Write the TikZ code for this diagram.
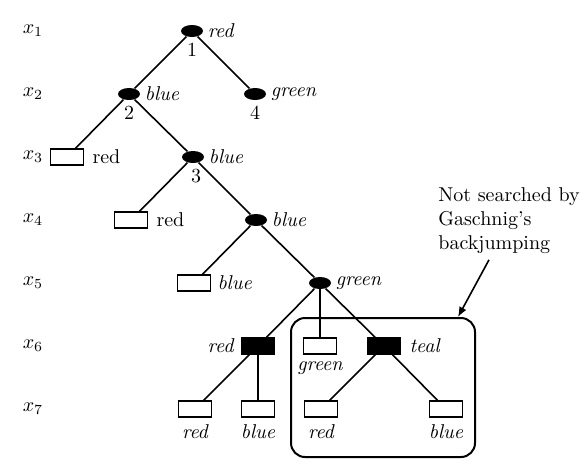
\documentclass[tikz,border=0pt]{standalone}
\usepackage{amsmath}
\usetikzlibrary{shapes.geometric,positioning,arrows.meta}

\begin{document}
\begin{tikzpicture}[x=0.5pt, y=-0.5pt,
  dot/.style={ellipse, fill=black, inner sep=0pt, minimum width=11pt, minimum height=6pt},
  leaf/.style={draw, line width=0.6pt, inner sep=0pt, minimum width=16.5pt, minimum height=8pt},
  dead/.style={leaf, fill=black},
  val/.style={font=\itshape, inner sep=1pt},
  num/.style={inner sep=1pt},
  edge/.style={line width=0.8pt}]
\newcommand{\Lvltop}{31}; % y of first level
\newcommand{\Lvlgap}{63}; % distance between levels

\useasboundingbox (0,0) rectangle (587,471);

% variables
\foreach \i in {1,...,7}
  \node (x\i) at (33, \Lvltop + \Lvlgap*\i - \Lvlgap) {$x_{\i}$};
%

% search tree
\node[dot]  (n1)  at (192,31)  {};
\node[dot]  (n2)  at (129,94)  {};
\node[dot]  (n4)  at (255,94)  {};
\node[leaf] (l3)  at (67,157)  {};
\node[dot]  (n3)  at (193,157) {};
\node[leaf] (l4)  at (131,220) {};
\node[dot]  (n5)  at (256,220) {};
\node[leaf] (l5)  at (194,283) {};
\node[dot]  (n6)  at (320,283) {};
\node[dead] (d6a) at (258,346) {};
\node[leaf] (l6)  at (320,346) {};
\node[dead] (d6b) at (384,346) {};
\node[leaf] (l7a) at (195,409) {};
\node[leaf] (l7b) at (258,409) {};
\node[leaf] (l7c) at (321,409) {};
\node[leaf] (l7d) at (446,409) {};

\foreach \a/\b in {n1/n2, n1/n4, n2/l3, n2/n3, n3/l4, n3/n5, n5/l5, n5/n6,
                   n6/d6a, n6/l6, n6/d6b, d6a/l7a, d6a/l7b, d6b/l7c, d6b/l7d}
  \draw[edge] (\a) -- (\b);
%

% values
\node[val, right=1pt of n1]  (c1)  {red};
\node[val, right=1pt of n2]  (c2)  {blue};
\node[val, right=1pt of n4]  (c4)  {green};
\node[inner sep=1pt, right=3pt of l3] (c3r) {red};
\node[val, right=1pt of n3]  (c3)  {blue};
\node[inner sep=1pt, right=3pt of l4] (c4r) {red};
\node[val, right=1pt of n5]  (c5)  {blue};
\node[val, right=2pt of l5]  (c5b) {blue};
\node[val, right=1pt of n6]  (c6)  {green};
\node[val, left=2.5pt of d6a] (c6a) {red};
\node[val, below=2.5pt of l6] (c6g) {green};
\node[val, right=3pt of d6b] (c6b) {teal};
\node[val, below=2.5pt of l7a] (c7a) {red};
\node[val, below=2.5pt of l7b] (c7b) {blue};
\node[val, below=2.5pt of l7c] (c7c) {red};
\node[val, below=2.5pt of l7d] (c7d) {blue};

% order of visit
\node[num, below=1.5pt of n1] (k1) {1};
\node[num, below=1.5pt of n2] (k2) {2};
\node[num, below=1.5pt of n3, xshift=1.5pt] (k3) {3};
\node[num, below=1.5pt of n4] (k4) {4};
%

% part that is skipped
\node[draw, rounded corners=7pt, line width=1pt, minimum width=92pt, minimum height=69.5pt] (skip) at (383,387.5) {};

\node[anchor=north west, align=left, inner sep=0pt] (note) at (438,187) {Not searched by\\Gaschnig's\\backjumping};
\coordinate (tail) at ([xshift=25.5pt, yshift=-3pt]note.south west);
\coordinate (hit)  at ([xshift=-9pt]skip.north east);
\draw[-{Latex[length=5pt, width=4pt]}, line width=0.8pt] (tail) -- (hit);
\end{tikzpicture}
\end{document}
